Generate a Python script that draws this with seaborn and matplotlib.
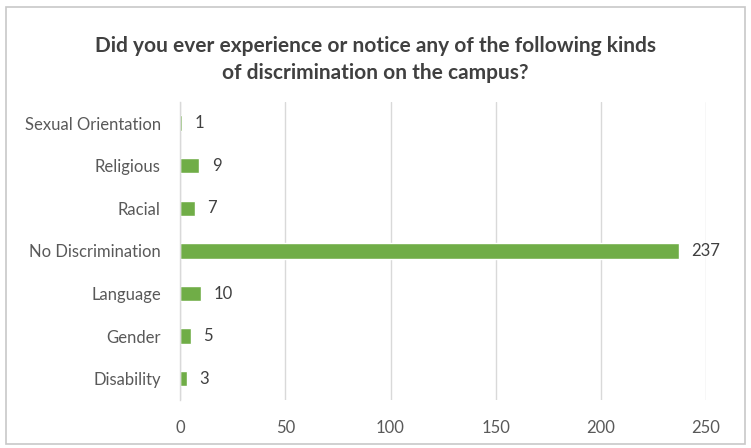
import matplotlib
matplotlib.use("Agg")
import matplotlib.pyplot as plt
import seaborn as sns
import pandas as pd

categories = ["Sexual Orientation", "Religious", "Racial", "No Discrimination",
              "Language", "Gender", "Disability"]
counts = [1, 9, 7, 237, 10, 5, 3]
x_ticks = [0, 50, 100, 150, 200, 250]

sns.set_theme(style="white")
plt.rcParams['font.family'] = ['Lato', 'DejaVu Sans']

df = pd.DataFrame({"category": categories, "count": counts})

fig = plt.figure(figsize=(7.51, 4.48), dpi=100)
fig.patch.set_facecolor("white")
ax = fig.add_axes([0.240, 0.107, 0.700, 0.666])

sns.barplot(data=df, x="count", y="category", order=categories,
            color="#70AD47", saturation=1, width=0.36, ax=ax)

ax.set_xlim(0, 250)
ax.set_xticks(x_ticks)
ax.set_xticklabels([str(t) for t in x_ticks])
ax.grid(axis="x", color="#D9D9D9", linewidth=1)
ax.set_axisbelow(True)
for s in ["top", "right", "bottom"]:
    ax.spines[s].set_visible(False)
ax.spines["left"].set_color("#D9D9D9")
ax.spines["left"].set_linewidth(1)
ax.set_xlabel("")
ax.set_ylabel("")
ax.tick_params(axis="both", length=0, colors="#595959", labelsize=12)
ax.tick_params(axis="x", pad=14)
ax.tick_params(axis="y", pad=14)

for c in ax.containers:
    ax.bar_label(c, labels=[str(v) for v in counts], padding=9,
                 color="#404040", fontsize=12)

fig.text(0.5, 0.868, "Did you ever experience or notice any of the following kinds\nof discrimination on the campus?",
         ha="center", va="center", fontsize=15, fontweight="bold", color="#404040",
         linespacing=1.45)

rect = plt.Rectangle((0.008, 0.01), 0.984, 0.975, transform=fig.transFigure,
                     fill=False, edgecolor="#C8C8C8", linewidth=1.2)
fig.add_artist(rect)

fig.savefig("out.png", dpi=100)
